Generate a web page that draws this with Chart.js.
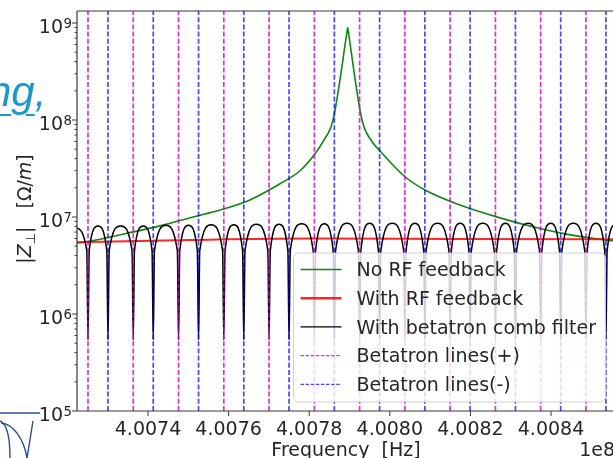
<!DOCTYPE html>
<html>
<head>
<meta charset="utf-8">
<script src="https://cdn.jsdelivr.net/npm/chart.js@4.4.0/dist/chart.umd.min.js"></script>
<style>
  html, body { margin: 0; padding: 0; background: #fff; overflow: hidden; }
  body { width: 613px; height: 458px; position: relative; }
  #wrap { position: absolute; left: 0; top: 0; width: 640px; height: 458px; }
  #slide-link {
    position: absolute; left: -12px; top: 71px; white-space: nowrap;
    font: italic 42px 'Liberation Sans', sans-serif; line-height: 42px; color: #1b98c9;
  }
  #slide-link u { text-underline-offset: 8px; text-decoration-thickness: 2px; }
  #logo { position: absolute; left: 0; top: 408px; }
</style>
</head>
<body>
<div id="wrap"><canvas id="zchart" width="640" height="458"></canvas></div>
<div id="slide-link"><u>ng</u>,</div>
<svg id="logo" width="60" height="50">
  <g fill="none" stroke="#2c4f8f" stroke-width="1.4">
    <line x1="0" y1="5" x2="40" y2="5"/>
    <path d="M0,13 C7,16 10,30 10,50"/>
    <path d="M1,15 C14,16 24,32 27,50"/>
    <path d="M33,13 L27,50"/>
  </g>
</svg>
<script>
(function () {
  'use strict';

  // --- Data (frequency in units of 1e8 Hz, |Z| in Ohm/m) ---
  var X_MIN = 4.0072238;
  var X_MAX = 4.0085588;
  var Y_MIN = 1e5;
  var Y_MAX = 1.33e9;

  var xTicks = [4.0074, 4.0076, 4.0078, 4.0080, 4.0082, 4.0084];
  var yDecades = [5, 6, 7, 8, 9];

  var legendLabels = ['No RF feedback', 'With RF feedback', 'With betatron comb filter',
    'Betatron lines(+)', 'Betatron lines(-)'];

  // No RF feedback: rising flank up to the resonance, then falling flank
  var noFbLeftFreq = [4.0072238, 4.0072511, 4.0073479, 4.0074298, 4.0075117, 4.0075787, 4.0076531,
    4.0077275, 4.0077772, 4.0078144, 4.0078342, 4.0078591, 4.0078955];
  var noFbLeftZ = [5.4e6, 5.6e6, 6.8e6, 8.1e6, 1.0e7, 1.18e7, 1.5e7,
    2.2e7, 3.0e7, 4.5e7, 6.0e7, 1.0e8, 9.0e8];
  var noFbRightFreq = [4.0078955, 4.0079310, 4.0079558, 4.0079757, 4.0080377, 4.0080873, 4.0081742,
    4.0082734, 4.0083727, 4.0084347, 4.0085216, 4.0085638];
  var noFbRightZ = [9.0e8, 1.0e8, 6.0e7, 4.8e7, 2.6e7, 1.9e7, 1.33e7,
    9.8e6, 7.6e6, 6.7e6, 5.9e6, 5.6e6];

  // With RF feedback
  var rfFbFreq = [4.0072238, 4.0075018, 4.0077996, 4.0081469, 4.0085638];
  var rfFbZ = [5.5e6, 5.8e6, 6.0e6, 5.95e6, 5.9e6];

  // With betatron comb filter
  var combFreq = [
    4.0072199,
    4.0072481, 4.0072511, 4.0072541, 4.0072759,
    4.0072977, 4.0073007, 4.0073037, 4.0073321,
    4.0073604, 4.0073634, 4.0073664, 4.0073882,
    4.0074100, 4.0074130, 4.0074160, 4.0074444,
    4.0074728, 4.0074758, 4.0074788, 4.0075006,
    4.0075224, 4.0075254, 4.0075284, 4.0075568,
    4.0075851, 4.0075881, 4.0075911, 4.0076129,
    4.0076347, 4.0076377, 4.0076407, 4.0076691,
    4.0076974, 4.0077004, 4.0077034, 4.0077252,
    4.0077470, 4.0077500, 4.0077530, 4.0077814,
    4.0078098, 4.0078128, 4.0078158, 4.0078376,
    4.0078594, 4.0078624, 4.0078654, 4.0078938,
    4.0079221, 4.0079251, 4.0079281, 4.0079499,
    4.0079717, 4.0079747, 4.0079777, 4.0080061,
    4.0080344, 4.0080374, 4.0080404, 4.0080622,
    4.0080840, 4.0080870, 4.0080900, 4.0081184,
    4.0081467, 4.0081497, 4.0081527, 4.0081745,
    4.0081963, 4.0081993, 4.0082023, 4.0082307,
    4.0082591, 4.0082621, 4.0082651, 4.0082869,
    4.0083087, 4.0083117, 4.0083147, 4.0083431,
    4.0083714, 4.0083744, 4.0083774, 4.0083992,
    4.0084210, 4.0084240, 4.0084270, 4.0084554,
    4.0084837, 4.0084867, 4.0084897, 4.0085115,
    4.0085333, 4.0085363, 4.0085393, 4.0085611
  ];
  var combZ = [
    7.8e6,
    4.5e6, 5.4e5, 4.5e6, 8.1e6,
    4.5e6, 5.4e5, 4.5e6, 8.1e6,
    4.5e6, 5.4e5, 4.5e6, 8.1e6,
    4.5e6, 5.4e5, 4.5e6, 8.2e6,
    4.5e6, 5.4e5, 4.5e6, 8.2e6,
    4.5e6, 5.4e5, 4.5e6, 8.3e6,
    4.5e6, 5.4e5, 4.5e6, 8.3e6,
    4.5e6, 5.4e5, 4.5e6, 8.4e6,
    4.5e6, 5.4e5, 4.5e6, 8.4e6,
    4.5e6, 5.4e5, 4.5e6, 8.5e6,
    4.5e6, 5.4e5, 4.5e6, 8.5e6,
    4.5e6, 5.4e5, 4.5e6, 8.6e6,
    4.5e6, 5.4e5, 4.5e6, 8.6e6,
    4.5e6, 5.4e5, 4.5e6, 8.6e6,
    4.5e6, 5.4e5, 4.5e6, 8.6e6,
    4.5e6, 5.4e5, 4.5e6, 8.6e6,
    4.5e6, 5.4e5, 4.5e6, 8.6e6,
    4.5e6, 5.4e5, 4.5e6, 8.6e6,
    4.5e6, 5.4e5, 4.5e6, 8.6e6,
    4.5e6, 5.4e5, 4.5e6, 8.6e6,
    4.5e6, 5.4e5, 4.5e6, 8.6e6,
    4.5e6, 5.4e5, 4.5e6, 8.6e6,
    4.5e6, 5.4e5, 4.5e6, 8.6e6,
    4.5e6, 5.4e5, 4.5e6, 8.6e6
  ];

  // Betatron lines
  var plusLines = [4.0072511, 4.0073634, 4.0074758, 4.0075881, 4.0077004, 4.0078128,
    4.0079251, 4.0080374, 4.0081497, 4.0082621, 4.0083744, 4.0084867];
  var minusLines = [4.0073007, 4.0074130, 4.0075254, 4.0076377, 4.0077500, 4.0078624,
    4.0079747, 4.0080870, 4.0081993, 4.0083117, 4.0084240, 4.0085363];

  var FONT_FAMILY = "'DejaVu Sans', sans-serif";
  var TEXT_COLOR = '#262626';
  var AXIS_COLOR = '#3a3a3a';

  function toPoints(xs, ys) {
    return xs.map(function (x, i) { return { x: x, y: ys[i] }; });
  }

  function vlines(freqs) {
    var pts = [];
    freqs.forEach(function (f) {
      pts.push({ x: f, y: Y_MIN }, { x: f, y: Y_MAX }, { x: f, y: null });
    });
    return pts;
  }

  var greenData = toPoints(noFbLeftFreq, noFbLeftZ)
    .concat([{ x: noFbLeftFreq[noFbLeftFreq.length - 1], y: null }])
    .concat(toPoints(noFbRightFreq, noFbRightZ));

  // --- Axes drawn matplotlib style ---
  var axesPlugin = {
    id: 'mplAxes',
    afterDatasetsDraw: function (chart) {
      var ctx = chart.ctx;
      var a = chart.chartArea;
      var xs = chart.scales.x;
      var ys = chart.scales.y;
      ctx.save();

      // spines
      ctx.strokeStyle = AXIS_COLOR;
      ctx.lineWidth = 1.2;
      ctx.beginPath();
      ctx.moveTo(a.left, a.top); ctx.lineTo(a.right, a.top);
      ctx.moveTo(a.left, a.top); ctx.lineTo(a.left, a.bottom);
      ctx.moveTo(a.left, a.bottom); ctx.lineTo(a.right, a.bottom);
      ctx.moveTo(a.right, a.top); ctx.lineTo(a.right, a.bottom);
      ctx.stroke();

      // x ticks + labels
      ctx.fillStyle = TEXT_COLOR;
      ctx.font = '19px ' + FONT_FAMILY;
      ctx.textAlign = 'center';
      ctx.textBaseline = 'alphabetic';
      ctx.lineWidth = 1;
      xTicks.forEach(function (t) {
        var px = xs.getPixelForValue(t);
        ctx.beginPath();
        ctx.moveTo(px, a.bottom); ctx.lineTo(px, a.bottom + 5);
        ctx.stroke();
        ctx.fillText(t.toFixed(4), px, a.bottom + 24);
      });
      ctx.fillText('Frequency  [Hz]', (a.left + a.right) / 2, a.bottom + 45);
      ctx.textAlign = 'right';
      ctx.fillText('1e8', a.right, a.bottom + 45);

      // y ticks (major + minor) + labels
      yDecades.forEach(function (e) {
        var base = Math.pow(10, e);
        var py = ys.getPixelForValue(base);
        ctx.beginPath();
        ctx.moveTo(a.left, py); ctx.lineTo(a.left - 5, py);
        ctx.stroke();
        for (var m = 2; m <= 9; m++) {
          var v = m * base;
          if (v > Y_MAX) break;
          var pm = ys.getPixelForValue(v);
          ctx.beginPath();
          ctx.moveTo(a.left, pm); ctx.lineTo(a.left - 2.5, pm);
          ctx.stroke();
        }
        ctx.textAlign = 'right';
        ctx.font = '13.3px ' + FONT_FAMILY;
        var ew = ctx.measureText(String(e)).width;
        ctx.fillText(String(e), a.left - 5, py + 4.5);
        ctx.font = '19px ' + FONT_FAMILY;
        ctx.fillText('10', a.left - 5 - ew - 0.5, py + 9.5);
      });

      // y title: |Z_perp|  [Omega/m]
      var parts = [
        { t: '|', f: '19px ' + FONT_FAMILY, dy: 0 },
        { t: 'Z', f: 'italic 19px ' + FONT_FAMILY, dy: 0 },
        { t: '\u22A5', f: '13px ' + FONT_FAMILY, dy: 4 },
        { t: '|', f: '19px ' + FONT_FAMILY, dy: 0 },
        { t: '   [', f: '19px ' + FONT_FAMILY, dy: 0 },
        { t: '\u03A9', f: '19px ' + FONT_FAMILY, dy: 0 },
        { t: '/', f: '19px ' + FONT_FAMILY, dy: 0 },
        { t: 'm', f: 'italic 19px ' + FONT_FAMILY, dy: 0 },
        { t: ']', f: '19px ' + FONT_FAMILY, dy: 0 }
      ];
      var total = 0;
      parts.forEach(function (p) { ctx.font = p.f; p.w = ctx.measureText(p.t).width; total += p.w; });
      ctx.translate(31, (a.top + a.bottom) / 2 - 2);
      ctx.rotate(-Math.PI / 2);
      ctx.textAlign = 'left';
      var cx = -total / 2;
      parts.forEach(function (p) {
        ctx.font = p.f;
        ctx.fillText(p.t, cx, p.dy);
        cx += p.w;
      });
      ctx.restore();
    }
  };

  // --- Legend box (lower right, inside the axes) ---
  var legendPlugin = {
    id: 'boxLegend',
    afterDraw: function (chart) {
      var ctx = chart.ctx;
      var a = chart.chartArea;
      var w = 312, h = 149;
      var x0 = a.right - 9.5 - w;
      var y0 = a.bottom - 9 - h;
      ctx.save();
      ctx.beginPath();
      ctx.roundRect(x0, y0, w, h, 5);
      ctx.fillStyle = 'rgba(255,255,255,0.8)';
      ctx.fill();
      ctx.strokeStyle = 'rgba(204,204,204,0.9)';
      ctx.lineWidth = 1;
      ctx.stroke();

      ctx.font = '19px ' + FONT_FAMILY;
      ctx.textAlign = 'left';
      ctx.textBaseline = 'alphabetic';
      legendLabels.forEach(function (label, i) {
        var ds = chart.data.datasets[i];
        var cy = y0 + 16.5 + i * 28.7;
        ctx.beginPath();
        ctx.setLineDash(ds.legendDash || []);
        ctx.strokeStyle = ds.borderColor;
        ctx.lineWidth = ds.legendWidth || ds.borderWidth;
        ctx.moveTo(x0 + 7, cy);
        ctx.lineTo(x0 + 48, cy);
        ctx.stroke();
        ctx.setLineDash([]);
        ctx.fillStyle = TEXT_COLOR;
        ctx.fillText(label, x0 + 63, cy + 6.8);
      });
      ctx.restore();
    }
  };

  var ctx = document.getElementById('zchart');
  new Chart(ctx, {
    type: 'line',
    data: {
      datasets: [
        {
          label: legendLabels[0],
          data: greenData,
          borderColor: '#128512',
          borderWidth: 1.6,
          cubicInterpolationMode: 'monotone',
          order: 5
        },
        {
          label: legendLabels[1],
          data: toPoints(rfFbFreq, rfFbZ),
          borderColor: 'rgba(255,0,0,0.85)',
          borderWidth: 2,
          legendWidth: 2.6,
          cubicInterpolationMode: 'monotone',
          order: 4
        },
        {
          label: legendLabels[2],
          data: toPoints(combFreq, combZ),
          borderColor: '#000000',
          borderWidth: 1.5,
          legendWidth: 1.3,
          cubicInterpolationMode: 'monotone',
          order: 3
        },
        {
          label: legendLabels[3],
          data: vlines(plusLines),
          borderColor: 'rgba(204,0,204,0.8)',
          borderWidth: 1.7,
          borderDash: [5, 2.2],
          legendDash: [3.5, 1.6],
          legendWidth: 1.2,
          order: 2
        },
        {
          label: legendLabels[4],
          data: vlines(minusLines),
          borderColor: 'rgba(0,0,255,0.72)',
          borderWidth: 1.7,
          borderDash: [5, 2.2],
          legendDash: [3.5, 1.6],
          legendWidth: 1.2,
          order: 1
        }
      ]
    },
    options: {
      responsive: false,
      animation: false,
      events: [],
      layout: { padding: { left: 77, top: 11, right: 25, bottom: 47 } },
      elements: { point: { radius: 0 } },
      plugins: {
        legend: { display: false },
        tooltip: { enabled: false }
      },
      scales: {
        x: { type: 'linear', display: false, min: X_MIN, max: X_MAX },
        y: { type: 'logarithmic', display: false, min: Y_MIN, max: Y_MAX }
      }
    },
    plugins: [axesPlugin, legendPlugin]
  });
})();
</script>
</body>
</html>
